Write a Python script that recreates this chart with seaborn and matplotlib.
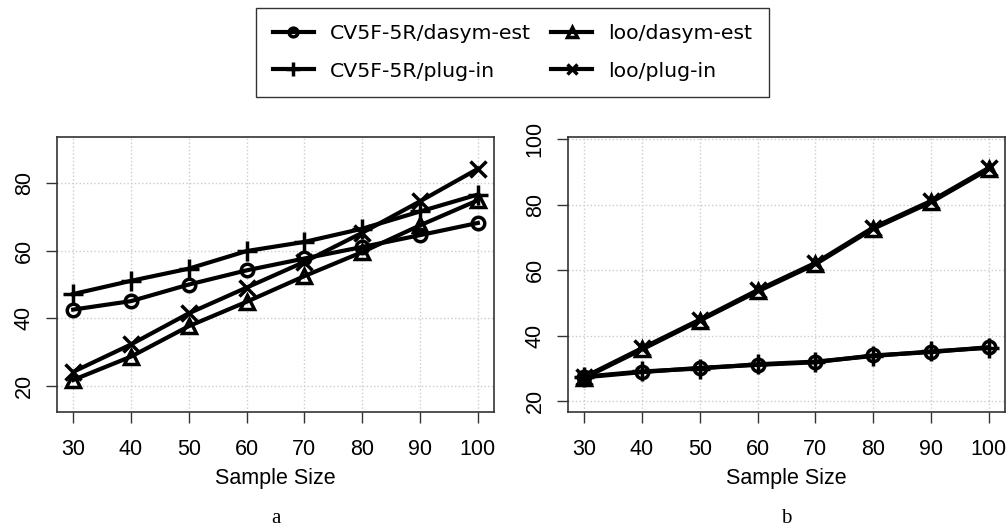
import numpy as np
import pandas as pd
import matplotlib
matplotlib.use("Agg")
import matplotlib.pyplot as plt
import seaborn as sns

sample_size = [30, 40, 50, 60, 70, 80, 90, 100]
series_names = ["CV5F-5R/dasym-est", "CV5F-5R/plug-in", "loo/dasym-est", "loo/plug-in"]

# panel a
a_cv_dasym = [42.6, 45.1, 50.0, 54.2, 57.7, 61.1, 64.6, 68.2]
a_cv_plugin = [47.2, 51.1, 54.7, 59.9, 62.6, 66.5, 71.6, 76.6]
a_loo_dasym = [21.8, 28.7, 37.7, 44.9, 52.5, 59.6, 67.5, 74.9]
a_loo_plugin = [24.2, 32.3, 41.5, 49.1, 56.7, 65.3, 74.6, 84.2]

# panel b
b_cv_dasym = [27.3, 28.9, 30.2, 31.1, 31.9, 34.0, 35.0, 36.5]
b_cv_plugin = [27.5, 29.1, 30.0, 31.3, 32.1, 33.8, 35.2, 36.3]
b_loo_dasym = [27.1, 35.8, 44.6, 53.5, 61.8, 72.6, 80.7, 90.8]
b_loo_plugin = [27.4, 36.2, 44.9, 53.9, 62.2, 73.0, 81.1, 91.2]

markers = ["o", "+", "^", "x"]
msizes = [9, 14, 10, 11]

plt.rcParams["font.family"] = ["Liberation Sans", "DejaVu Sans"]

fig = plt.figure(figsize=(10.07, 5.27), dpi=100)
ax_a = fig.add_axes([0.0566, 0.218, 0.434, 0.522])
ax_b = fig.add_axes([0.564, 0.218, 0.434, 0.522])


def draw_panel(ax, values, ylim, yticks, tag):
    for name, vals, m, ms in zip(series_names, values, markers, msizes):
        df = pd.DataFrame({"n": sample_size, "v": vals})
        sns.lineplot(data=df, x="n", y="v", ax=ax, color="black", lw=3,
                     marker=m, ms=ms, mfc="none", mec="black", mew=2.5,
                     label=name, legend=False)
    ax.set_xlim(27.2, 102.8)
    ax.set_ylim(*ylim)
    ax.set_xticks(sample_size)
    ax.set_yticks(yticks)
    ax.grid(True, color="#cccccc", ls=":", lw=1)
    ax.tick_params(axis="both", direction="out", length=8, width=1, labelsize=15.5,
                   color="#333333")
    ax.tick_params(axis="x", pad=11)
    ax.tick_params(axis="y", pad=8)
    for lab in ax.get_yticklabels():
        lab.set_rotation(90)
        lab.set_va("center")
    for sp in ax.spines.values():
        sp.set_color("#333333")
        sp.set_linewidth(1.2)
    ax.set_xlabel("Sample Size", fontsize=15.5, labelpad=6)
    ax.set_ylabel("")
    ax.text(0.5, -0.385, tag, transform=ax.transAxes, ha="center", va="center",
            fontsize=15, family="Liberation Serif")


draw_panel(ax_a, [a_cv_dasym, a_cv_plugin, a_loo_dasym, a_loo_plugin],
           (12.3, 93.6), [20, 40, 60, 80], "a")
draw_panel(ax_b, [b_cv_dasym, b_cv_plugin, b_loo_dasym, b_loo_plugin],
           (16.7, 100.6), [20, 40, 60, 80, 100], "b")

handles = ax_a.get_lines()[:4]
leg = fig.legend(handles, series_names, ncol=2, loc="upper center",
                 bbox_to_anchor=(0.509, 0.985), frameon=True, fancybox=False,
                 edgecolor="black", prop={"family": "DejaVu Sans", "size": 14.7},
                 handlelength=2.0, columnspacing=1.0, handletextpad=0.8,
                 borderpad=0.8, labelspacing=0.9, borderaxespad=0,
                 markerscale=0.7)
leg.get_frame().set_linewidth(1)

fig.savefig("out.png", dpi=100)
